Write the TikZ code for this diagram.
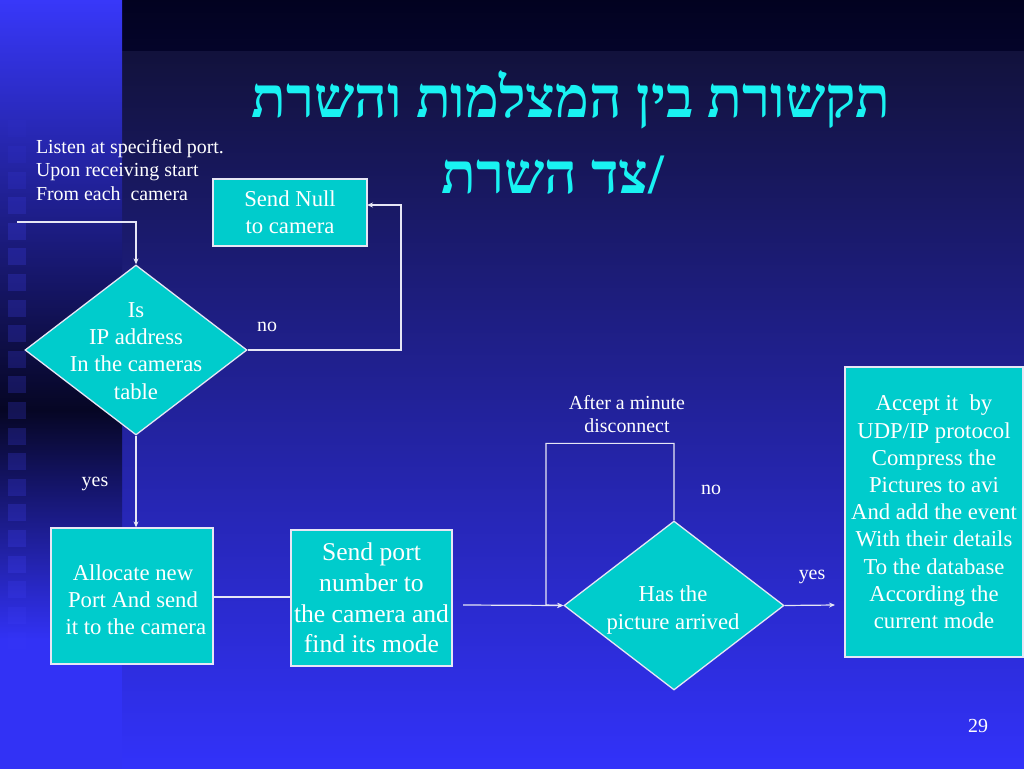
\documentclass[tikz,border=0pt]{standalone}
\usepackage{fontspec}
\setmainfont{Liberation Serif}
\newfontfamily\hebfont[Script=Hebrew]{Liberation Serif}
\TeXXeTstate=1
\usetikzlibrary{shapes.geometric,arrows.meta}
\definecolor{boxfill}{HTML}{00CCCC}
\definecolor{titlecol}{HTML}{19F2F2}
\definecolor{linecol}{HTML}{E6E6F5}
\definecolor{brightblue}{HTML}{3838FA}
\definecolor{darkband}{HTML}{020220}
\definecolor{darkband2}{HTML}{04042A}
\definecolor{maintop}{HTML}{12123C}
\definecolor{mainmid}{HTML}{2424BE}
\definecolor{mainbot}{HTML}{3232FA}
\definecolor{leftdark}{HTML}{060624}
\definecolor{leftbot}{HTML}{3232F5}
\definecolor{sqcol}{HTML}{4646FF}
\tikzset{
  flowbox/.style={draw=linecol, line width=1.3pt, fill=boxfill, text=white, align=center, inner sep=0pt},
  flowdia/.style={diamond, draw=linecol, line width=1.3pt, fill=boxfill, inner sep=0pt},
  wtext/.style={text=white, align=center, inner sep=0pt},
  conn/.style={draw=linecol, line width=1.2pt},
  arr/.style={conn, -{Stealth[length=6pt,width=5pt]}},
  txtA/.style={font=\fontsize{22.7}{27.2}\selectfont},
  txtB/.style={font=\fontsize{19.9}{23.6}\selectfont},
  txtC/.style={font=\fontsize{25.6}{30.8}\selectfont},
  titletext/.style={text=titlecol, font=\hebfont\bfseries\fontsize{57}{70}\selectfont, inner sep=0pt},
}
\begin{document}
\begin{tikzpicture}[x=1pt,y=-1pt]
\useasboundingbox (0,0) rectangle (1024,768);
% background
\shade[top color=darkband, bottom color=darkband2] (122,-1) rectangle (1025,52);
\shade[top color=maintop, middle color=mainmid, bottom color=mainbot] (122,52) rectangle (1025,769);
\shade[top color=brightblue, bottom color=leftdark] (-1,-1) rectangle (122,410);
\shade[top color=leftdark, bottom color=leftbot] (-1,410) rectangle (122,640);
\fill[leftbot] (-1,640) rectangle (122,769);
\foreach \k in {0,...,21} {
  \pgfmathsetmacro{\op}{0.22*min(1,min((\k+1)/5,(22-\k)/5))}
  \fill[sqcol, opacity=\op] (8,{120.4+25.6*\k}) rectangle (26,{137.4+25.6*\k});
}
% title
\node[titletext] (title1) at (571,100) {\beginR תקשורת בין המצלמות והשרת\endR};
\node[titletext] (title2) at (553,175) {\beginR צד השרת\endR/};
% nodes
\node[wtext, txtB, align=left] (listen) at (130,170) {Listen at specified port.\\Upon receiving start\\From each\enspace camera};
\node[flowbox, txtA, minimum width=154pt, minimum height=67pt] (null) at (290,212.5) {Send Null\\to camera};
\node[flowdia, minimum width=222pt, minimum height=170pt] (dia1) at (136,350) {};
\node[wtext, txtA] (dia1t) at (136,351) {Is\\IP address\\In the cameras\\table};
\node[flowbox, txtA, minimum width=162pt, minimum height=136pt] (alloc) at (132,596) {};
\node[wtext, txtA] (alloct) at (133,600) {Allocate new\\Port And send\\\ it to the camera};
\node[flowbox, txtC, minimum width=161pt, minimum height=136pt] (sendport) at (371.5,598) {Send port\\number to\\the camera and\\find its mode};
\node[flowdia, minimum width=220pt, minimum height=169pt] (dia2) at (674,605.5) {};
\node[wtext, txtA] (dia2t) at (673,610) {Has the\\picture arrived};
\node[flowbox, txtA, minimum width=178pt, minimum height=290pt] (accept) at (934,512) {Accept it\enspace by\\UDP/IP protocol\\Compress the\\Pictures to avi\\And add the event\\With their details\\To the database\\According the\\current mode};
% labels
\node[wtext, txtB] (lno1) at (267,327) {no};
\node[wtext, txtB] (lyes1) at (95,484) {yes};
\node[wtext, txtB] (lafter) at (627,414) {After a minute\\disconnect};
\node[wtext, txtB] (lno2) at (711,490) {no};
\node[wtext, txtB] (lyes2) at (812,577) {yes};
\node[wtext, txtB] (pagenum) at (978,726) {29};
% connectors
\coordinate (start) at (17,222);
\coordinate (nullin) at (367,205);
\coordinate (sendout) at (463,605);
\coordinate (acceptin) at (835,605);
\draw[arr] (start) -| (dia1.north);
\draw[arr] (dia1.east) -- (401,350) |- (nullin);
\draw[arr] (dia1.south) -- (dia1.south |- alloc.north);
\draw[conn] (alloc.east |- 0,597) -- (sendport.west |- 0,597);
\draw[arr] (sendout) -- (dia2.west);
\draw[arr] (dia2.north) -- ++(0,-77) -| (546,605) -- (dia2.west);
\draw[arr] (dia2.east) -- (acceptin);
\end{tikzpicture}
\end{document}
